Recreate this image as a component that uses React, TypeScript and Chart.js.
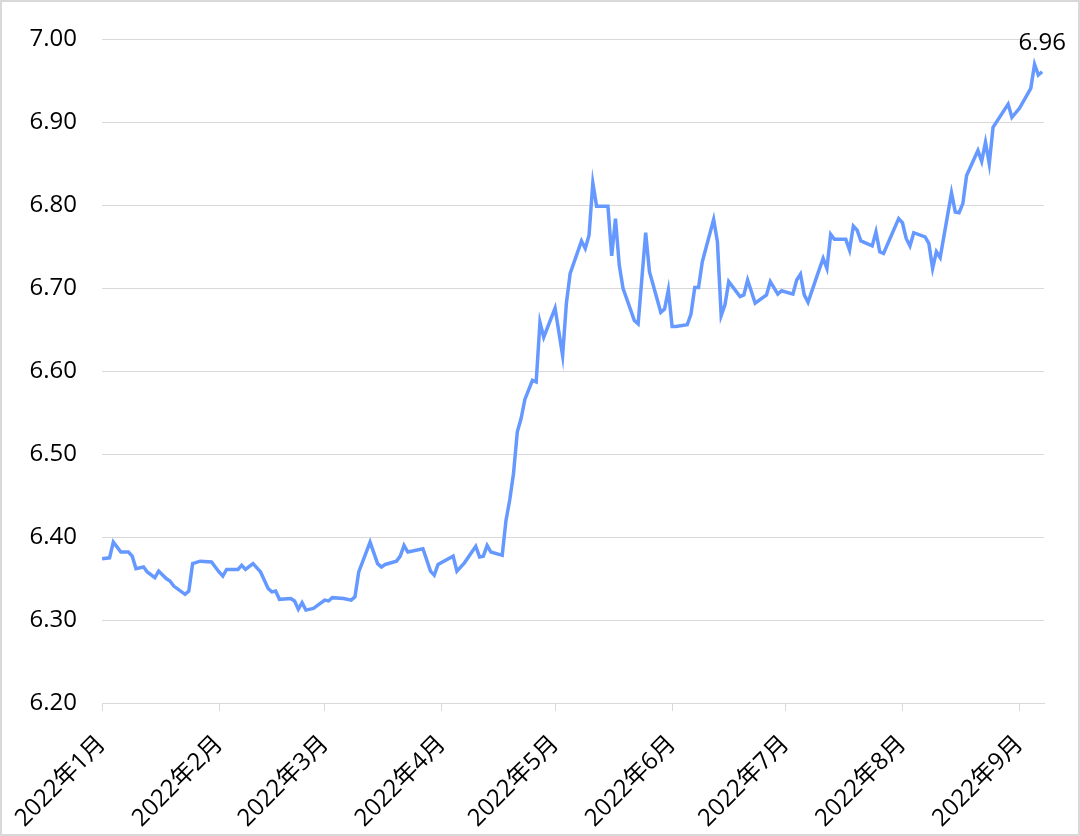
import React, { useEffect, useRef } from "react";
import { Chart, registerables } from "chart.js";

Chart.register(...registerables);

// Day of year (0 = 2022-01-01) for each point
const days = [
  0, 2, 3, 5, 7, 8, 9, 11, 12, 14, 15, 17, 18, 19, 22, 23, 24, 26, 29, 31,
  32, 33, 36, 37, 38, 40, 42, 44, 45, 46, 47, 50, 51, 52, 53, 54, 56, 59, 60, 61,
  64, 66, 67, 68, 71, 73, 74, 75, 78, 79, 80, 81, 85, 87, 88, 89, 93, 94, 96, 99,
  100, 101, 102, 103, 106, 107, 108, 109, 110, 111, 112, 114, 115, 116, 117, 120, 122, 123, 124, 127,
  128, 129, 130, 131, 134, 135, 136, 137, 138, 141, 142, 144, 145, 148, 149, 150, 151, 152, 155, 156,
  157, 158, 159, 162, 163, 164, 165, 166, 169, 170, 171, 173, 176, 177, 179, 180, 183, 184, 185, 186,
  187, 190, 191, 192, 193, 194, 197, 198, 199, 200, 201, 204, 205, 206, 207, 211, 212, 213, 214, 215,
  218, 219, 220, 221, 222, 225, 226, 227, 228, 229, 232, 233, 234, 235, 236, 240, 241, 243, 246, 247,
  248, 249,
];

const rates = [
  6.374, 6.375, 6.394, 6.382, 6.382, 6.377, 6.362, 6.364, 6.358, 6.351, 6.359, 6.35, 6.347, 6.341, 6.331, 6.335, 6.368, 6.371, 6.37, 6.358,
  6.353, 6.361, 6.361, 6.366, 6.361, 6.368, 6.358, 6.338, 6.334, 6.335, 6.325, 6.326, 6.323, 6.313, 6.321, 6.312, 6.314, 6.324, 6.323, 6.327,
  6.326, 6.324, 6.328, 6.358, 6.394, 6.368, 6.364, 6.367, 6.371, 6.377, 6.39, 6.382, 6.386, 6.359, 6.354, 6.367, 6.377, 6.359, 6.369, 6.389,
  6.376, 6.377, 6.39, 6.382, 6.378, 6.42, 6.445, 6.477, 6.527, 6.543, 6.566, 6.589, 6.587, 6.659, 6.641, 6.676, 6.619, 6.682, 6.718, 6.757,
  6.748, 6.764, 6.827, 6.799, 6.799, 6.739, 6.784, 6.728, 6.7, 6.661, 6.657, 6.767, 6.72, 6.671, 6.675, 6.698, 6.654, 6.654, 6.656, 6.669,
  6.701, 6.701, 6.732, 6.783, 6.756, 6.667, 6.68, 6.708, 6.69, 6.692, 6.71, 6.682, 6.692, 6.708, 6.693, 6.697, 6.693, 6.71, 6.717, 6.692,
  6.683, 6.723, 6.736, 6.724, 6.765, 6.759, 6.759, 6.746, 6.775, 6.77, 6.757, 6.751, 6.768, 6.744, 6.742, 6.784, 6.779, 6.76, 6.751, 6.767,
  6.762, 6.754, 6.724, 6.744, 6.737, 6.815, 6.792, 6.791, 6.802, 6.836, 6.866, 6.853, 6.876, 6.85, 6.894, 6.922, 6.906, 6.917, 6.941, 6.97,
  6.957, 6.961,
];

const monthStarts = [0, 31, 59, 90, 120, 151, 181, 212, 243];
const monthLabels = [
  "2022年1月", "2022年2月", "2022年3月", "2022年4月", "2022年5月",
  "2022年6月", "2022年7月", "2022年8月", "2022年9月",
];
const yTicks = [6.2, 6.3, 6.4, 6.5, 6.6, 6.7, 6.8, 6.9, 7.0];

const FONT = "'Open Sans', 'Noto Sans CJK SC', sans-serif";

const lastLabelPlugin = {
  id: "lastLabel",
  afterDatasetsDraw(chart: any) {
    const meta = chart.getDatasetMeta(0);
    const pt = meta.data[meta.data.length - 1];
    if (!pt) return;
    const ctx = chart.ctx;
    ctx.save();
    ctx.font = `24px ${FONT}`;
    ctx.fillStyle = "#000";
    ctx.textAlign = "center";
    ctx.textBaseline = "middle";
    ctx.fillText(rates[rates.length - 1].toFixed(2), pt.x, pt.y - 29);
    ctx.restore();
  },
};

export default function App() {
  const ref = useRef<HTMLCanvasElement>(null);
  useEffect(() => {
    if (!ref.current) return;
    const chart = new Chart(ref.current, {
      type: "line",
      data: {
        datasets: [
          {
            data: days.map((d, i) => ({ x: d, y: rates[i] })),
            borderColor: "#6699FF",
            borderWidth: 3.5,
            pointRadius: 0,
            tension: 0,
            fill: false,
          },
        ],
      },
      options: {
        animation: false,
        responsive: false,
        events: [],
        layout: { padding: { top: 39, right: 36, bottom: 0, left: 0 } },
        plugins: { legend: { display: false }, tooltip: { enabled: false } },
        scales: {
          x: {
            type: "linear",
            min: 0,
            max: 249.5,
            afterBuildTicks: (scale: any) => {
              scale.ticks = monthStarts.map((v) => ({ value: v }));
            },
            afterFit: (scale: any) => {
              scale.height = 133;
            },
            ticks: {
              autoSkip: false,
              minRotation: 45,
              maxRotation: 45,
              padding: 19,
              color: "#000",
              font: { size: 24, family: FONT },
              callback: (v: any) => {
                const i = monthStarts.indexOf(Number(v));
                return i >= 0 ? monthLabels[i] : "";
              },
            },
            grid: { drawOnChartArea: false, drawTicks: true, tickLength: 8, color: "#d9d9d9" },
            border: { display: true, color: "#d9d9d9" },
          },
          y: {
            min: 6.2,
            max: 7.0,
            afterBuildTicks: (scale: any) => {
              scale.ticks = yTicks.map((v) => ({ value: v }));
            },
            afterFit: (scale: any) => {
              scale.width = 102;
            },
            ticks: {
              padding: 25,
              color: "#000",
              font: { size: 24, family: FONT },
              callback: (v: any) => Number(v).toFixed(2),
            },
            grid: { color: "#d9d9d9", drawTicks: false },
            border: { display: false },
          },
        },
      },
      plugins: [lastLabelPlugin],
    });
    return () => chart.destroy();
  }, []);
  return (
    <div style={{ position: "fixed", left: 0, top: 0, width: 1080, height: 836, background: "#fff" }}>
      <canvas ref={ref} width={1080} height={836} style={{ position: "absolute", left: 0, top: 0 }} />
      <div
        style={{
          position: "absolute",
          left: 0,
          top: 0,
          width: 1080,
          height: 836,
          boxSizing: "border-box",
          border: "2px solid #d9d9d9",
          pointerEvents: "none",
        }}
      />
    </div>
  );
}
